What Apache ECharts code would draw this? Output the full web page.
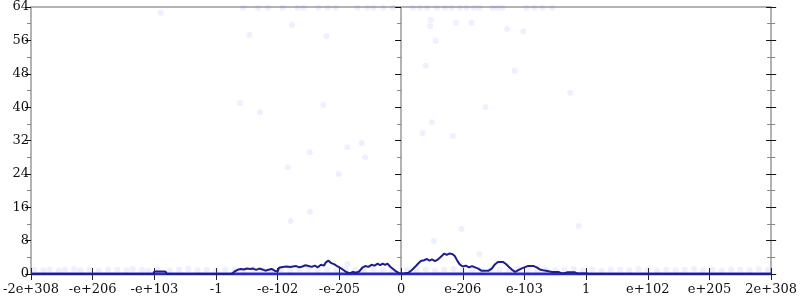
<!DOCTYPE html>
<html>
<head>
<meta charset="utf-8">
<script src="https://cdn.jsdelivr.net/npm/echarts@6/dist/echarts.min.js"></script>
<style>html,body{margin:0;padding:0;background:#fff}#c{width:800px;height:300px}</style>
</head>
<body>
<div id="c"></div>
<script>
// x tick labels (axis positions -6..6)
const tickLabels = ['-2e+308','-e+206','-e+103','-1','-e-102','-e-205','0','e-206','e-103','1','e+102','e+205','2e+308'];
const yTicks = [0, 8, 16, 24, 32, 40, 48, 56, 64];

// histogram line (x in axis units, y count)
const lineX = [-6,-4.02,-4.0,-3.82,-3.8,-2.75,-2.7,-2.65,-2.6,-2.55,-2.5,-2.45,-2.4,-2.35,-2.3,-2.25,-2.2,-2.15,-2.1,-2.05,-2.0,-1.98,-1.92,-1.85,-1.8,-1.75,-1.7,-1.65,-1.6,-1.55,-1.5,-1.45,-1.4,-1.35,-1.3,-1.25,-1.22,-1.18,-1.13,-1.08,-1.03,-0.98,-0.93,-0.88,-0.83,-0.78,-0.73,-0.68,-0.63,-0.58,-0.53,-0.48,-0.43,-0.38,-0.34,-0.3,-0.26,-0.22,-0.18,-0.13,-0.08,-0.03,0,
  0.05,0.12,0.17,0.22,0.27,0.32,0.37,0.42,0.46,0.5,0.55,0.6,0.65,0.7,0.74,0.78,0.83,0.87,0.91,0.95,1.0,1.05,1.1,1.15,1.2,1.25,1.3,1.35,1.42,1.47,1.52,1.57,1.65,1.7,1.75,1.8,1.85,1.9,1.95,2.0,2.05,2.15,2.2,2.25,2.3,2.35,2.45,2.55,2.6,2.65,2.7,2.82,2.86,3.0,3.05,6];
const lineY = [0,0,0.6,0.6,0,0,0.6,1.0,1.2,1.1,1.3,1.2,1.3,1.0,1.3,1.1,0.8,1.0,1.2,0.8,0.6,1.5,1.7,1.8,1.7,1.8,1.9,1.6,1.8,2.1,1.9,1.7,2.0,1.6,2.2,2.0,2.8,3.2,2.6,2.3,1.8,1.4,0.9,0.4,0.2,0.5,0.3,0.6,1.5,1.9,1.7,2.2,2.0,2.5,2.1,2.5,2.2,2.5,1.8,1.2,0.6,0.2,0,
  0.1,0.3,0.9,1.6,2.4,3.1,3.3,3.6,3.2,3.5,3.1,3.5,4.2,4.9,4.6,4.9,4.8,4.3,3.2,2.3,1.8,2.0,1.6,1.9,1.6,1.3,0.8,0.8,0.8,1.3,2.3,2.9,2.9,2.4,1.7,1.0,0.5,0.9,1.3,1.6,1.9,1.9,1.6,1.1,0.9,0.8,0.5,0.5,0.2,0.2,0.4,0.4,0.1,0.1,0,0];

// baseline
const baseX = [-6, 6];
const baseY = [0, 0];

// faint sample points
const dotX = [-2.56,-2.32,-2.16,-1.92,-1.68,-1.58,-1.34,-1.19,-1.06,-0.71,-0.55,-0.45,-0.29,-0.13,0.19,0.31,0.42,0.58,0.71,0.82,0.95,1.06,1.18,1.27,1.48,1.56,1.64,2.03,2.16,2.29,2.45,
  -3.9,-1.77,-2.46,-1.21,-2.61,-1.26,-2.29,-0.87,-0.64,0.48,0.47,0.89,1.14,1.72,1.98,0.56,0.40,1.84,2.74,1.37,0.50,0.35,0.84,-1.48,-0.58,-1.84,-1.01,-1.48,-1.79,-0.87,0.98,0.53,1.27,2.88,
  -5.95,-5.8,-5.7,-5.55,-5.45,-5.3,-5.2,-5.05,-4.9,-4.75,-4.6,-4.45,-4.35,-4.2,-4.1,-3.95,-3.75,-3.6,-3.45,-3.3,-3.15,-3.0,-2.85,-2.7,-2.55,-2.4,-2.25,-2.1,-1.95,-1.8,-1.65,-1.5,-1.35,-1.2,-1.05,-0.9,-0.75,-0.6,-0.45,-0.3,-0.15,0.1,0.25,0.4,0.55,0.7,0.85,1.0,1.15,1.3,1.45,1.6,1.75,1.9,2.05,2.2,2.35,2.5,2.65,2.8,2.95,3.1,3.25,3.4,3.55,3.7,3.85,4.0,4.15,4.3,4.45,4.6,4.75,4.9,5.05,5.2,5.35,5.5,5.65,5.8,5.95];
const dotY = [63.8,63.8,63.8,63.8,63.8,63.8,63.8,63.8,63.8,63.8,63.8,63.8,63.8,63.8,63.8,63.8,63.8,63.8,63.8,63.8,63.8,63.8,63.8,63.8,63.8,63.8,63.8,63.8,63.8,63.8,63.8,
  62.6,59.7,57.3,57.0,41.0,40.5,38.8,30.4,31.4,60.9,59.4,60.2,60.2,58.7,58.2,55.9,49.9,48.7,43.4,40.0,36.4,33.8,33.1,29.2,28.0,25.6,24.0,14.9,12.7,2.4,10.8,7.9,4.8,11.5,
  1.0,0.9,1.1,0.8,1.0,1.2,0.9,1.0,0.8,1.1,1.0,0.9,1.2,1.0,0.8,1.1,0.9,1.0,1.2,0.9,1.0,0.8,1.1,1.0,0.9,1.2,1.0,0.8,1.1,0.9,1.0,1.2,0.9,1.0,0.8,1.1,1.0,0.9,1.2,1.0,0.8,1.0,0.9,1.1,0.8,1.0,1.2,0.9,1.0,0.8,1.1,1.0,0.9,1.2,1.0,0.8,1.1,0.9,1.0,1.2,0.9,1.0,0.8,1.1,1.0,0.9,1.2,1.0,0.8,1.1,0.9,1.0,1.2,0.9,1.0,0.8,1.1,1.0,0.9,1.2,1.0];

const font = 'DejaVu Serif';
const gray = '#b3b3b3';
const chart = echarts.init(document.getElementById('c'), null, {renderer: 'canvas'});
const xBase = {type: 'value', min: -6, max: 6, interval: 1, splitLine: {show: false}};
const yBase = {type: 'value', min: yTicks[0], max: yTicks[yTicks.length - 1], interval: 8, splitLine: {show: false}};
chart.setOption({
  animation: false,
  grid: {left: 28, right: 27, top: 7, bottom: 26, containLabel: false},
  xAxis: [
    Object.assign({}, xBase, {position: 'bottom', axisLine: {show: true, onZero: false, lineStyle: {color: gray, width: 2}},
      axisTick: {show: true, length: 6, lineStyle: {color: '#222', width: 1}},
      axisLabel: {margin: 9, fontFamily: font, fontSize: 13, color: '#111', formatter: v => tickLabels[Math.round(v) + 6]}}),
    Object.assign({}, xBase, {position: 'top', axisLine: {show: true, onZero: false, lineStyle: {color: gray, width: 2}},
      axisTick: {show: false}, axisLabel: {show: false}}),
    Object.assign({}, xBase, {position: 'bottom', axisLine: {show: false, onZero: false},
      axisTick: {show: true, inside: true, length: 6, lineStyle: {color: '#222', width: 1}}, axisLabel: {show: false}})
  ],
  yAxis: [
    Object.assign({}, yBase, {position: 'left', axisLine: {show: true, onZero: false, lineStyle: {color: gray, width: 2}},
      axisTick: {show: true, length: 6, lineStyle: {color: '#111', width: 1}},
      minorTick: {show: true, splitNumber: 2, length: 4, lineStyle: {color: '#888'}},
      axisLabel: {margin: 2, fontFamily: font, fontSize: 13, color: '#111'}}),
    Object.assign({}, yBase, {position: 'right', axisLine: {show: true, onZero: false, lineStyle: {color: gray, width: 2}},
      axisTick: {show: true, length: 5, lineStyle: {color: '#111', width: 1}},
      minorTick: {show: true, splitNumber: 2, length: 4, lineStyle: {color: '#888'}},
      axisLabel: {show: false}}),
    Object.assign({}, yBase, {position: 'right', axisLine: {show: false, onZero: false},
      axisTick: {show: true, inside: true, length: 5, lineStyle: {color: '#111', width: 1}},
      minorTick: {show: true, splitNumber: 2, length: 4, lineStyle: {color: '#888'}},
      axisLabel: {show: false}}),
    Object.assign({}, yBase, {position: 'left', axisLine: {show: true, onZero: true, onZeroAxisIndex: 0, lineStyle: {color: gray, width: 2}},
      axisTick: {show: true, length: 6, lineStyle: {color: '#111', width: 1}},
      minorTick: {show: true, splitNumber: 2, length: 4, lineStyle: {color: '#888'}},
      axisLabel: {show: false}})
  ],
  series: [
    {type: 'scatter', xAxisIndex: 0, yAxisIndex: 0, symbolSize: 6, silent: true,
      itemStyle: {color: 'rgba(90,90,255,0.12)'}, data: dotX.map((x, i) => [x, dotY[i]])},
    {type: 'line', xAxisIndex: 0, yAxisIndex: 0, showSymbol: false, silent: true,
      lineStyle: {color: '#2a2ac4', width: 3}, data: baseX.map((x, i) => [x, baseY[i]])},
    {type: 'line', xAxisIndex: 0, yAxisIndex: 0, showSymbol: false, silent: true,
      lineStyle: {color: '#1e1e8c', width: 2}, data: lineX.map((x, i) => [x, lineY[i]])}
  ]
});
</script>
</body>
</html>
